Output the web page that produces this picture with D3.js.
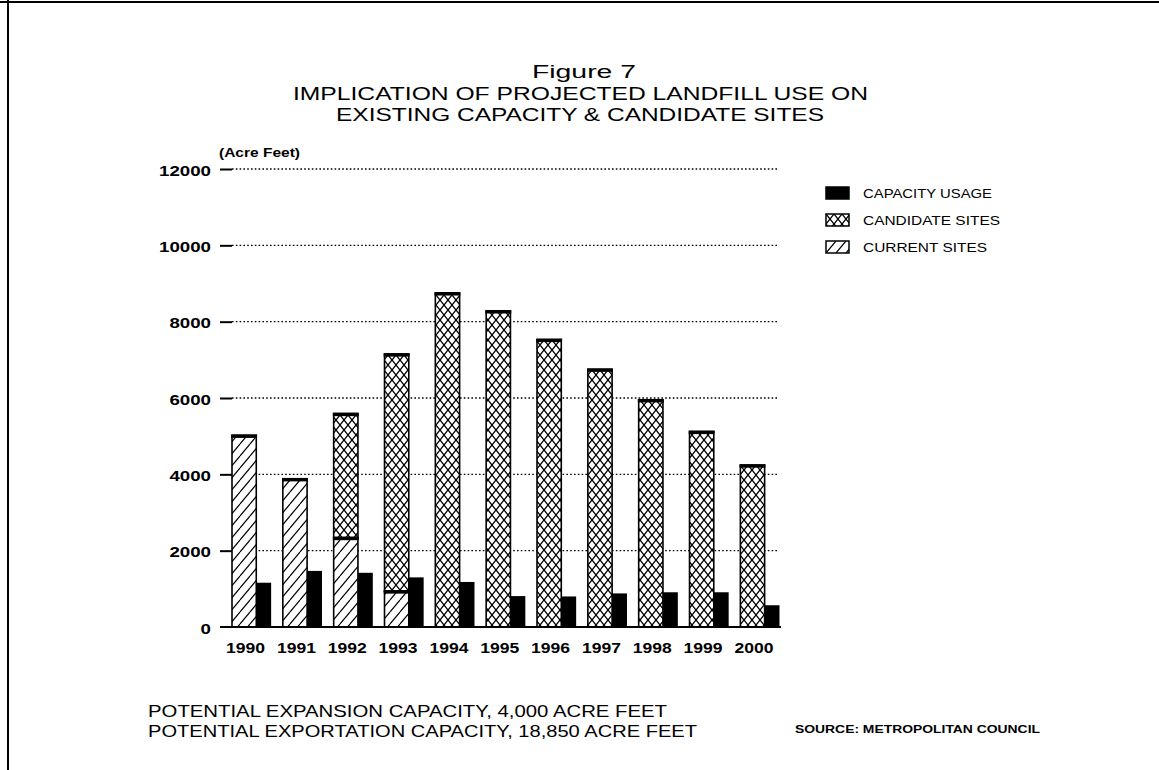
<!DOCTYPE html>
<html>
<head>
<meta charset="utf-8">
<script src="https://cdn.jsdelivr.net/npm/d3@7"></script>
<style>
  body { margin: 0; background: #fff; }
  svg { display: block; font-family: "Liberation Sans", Arial, sans-serif; }
</style>
</head>
<body>
<div id="chart"></div>
<script>
// data (acre feet)
const years = ["1990", "1991", "1992", "1993", "1994", "1995", "1996", "1997", "1998", "1999", "2000"];
const currentSites = [5020, 3880, 2340, 940, 0, 0, 0, 0, 0, 0, 0];
const candidateSites = [0, 0, 3250, 6210, 8750, 8280, 7530, 6750, 5950, 5120, 4240];
const capacityUsage = [1160, 1470, 1420, 1300, 1180, 810, 800, 880, 910, 910, 570];
const yTicks = [0, 2000, 4000, 6000, 8000, 10000, 12000];
const legendItems = ["CAPACITY USAGE", "CANDIDATE SITES", "CURRENT SITES"];

const width = 1159, height = 770;

const svg = d3.select("#chart").append("svg")
    .attr("width", width)
    .attr("height", height);

// fill patterns
const defs = svg.append("defs");
defs.append("pattern")
    .attr("id", "cross")
    .attr("patternUnits", "userSpaceOnUse")
    .attr("width", 8).attr("height", 10)
    .append("path")
    .attr("d", "M0,0L8,10M8,0L0,10")
    .attr("stroke", "#000")
    .attr("stroke-width", 1.3)
    .attr("fill", "none");
defs.append("pattern")
    .attr("id", "hatch")
    .attr("patternUnits", "userSpaceOnUse")
    .attr("width", 10).attr("height", 12)
    .append("path")
    .attr("d", "M0,12L10,0M-5,6L0,0M10,12L15,6")
    .attr("stroke", "#000")
    .attr("stroke-width", 1.2)
    .attr("fill", "none");

// page frame (scanned page edges)
svg.append("line").attr("x1", 0).attr("x2", width).attr("y1", 2).attr("y2", 2)
    .attr("stroke", "#000").attr("stroke-width", 2);
svg.append("line").attr("x1", 8).attr("x2", 8).attr("y1", 0).attr("y2", height)
    .attr("stroke", "#000").attr("stroke-width", 2);

// helper: stretch text to the width it has in the figure
const fit = (sel, w) => sel.attr("textLength", w).attr("lengthAdjust", "spacingAndGlyphs");

// titles
fit(svg.append("text").attr("x", 532).attr("y", 78).style("font-size", "18px").text("Figure 7"), 104);
fit(svg.append("text").attr("x", 293).attr("y", 100).style("font-size", "18px")
    .text("IMPLICATION OF PROJECTED LANDFILL USE ON"), 575);
fit(svg.append("text").attr("x", 336).attr("y", 121).style("font-size", "18px")
    .text("EXISTING CAPACITY & CANDIDATE SITES"), 488);

const x = d3.scaleBand()
    .domain(years)
    .range([232, 779.5])
    .paddingInner(0.23)
    .paddingOuter(0);

const y = d3.scaleLinear()
    .domain([0, 12000])
    .range([627, 169]);

// dotted grid
svg.append("g")
    .selectAll("line")
    .data(yTicks.filter(d => d > 0))
    .enter()
    .append("line")
    .attr("x1", 232).attr("x2", 779)
    .attr("y1", d => y(d)).attr("y2", d => y(d))
    .attr("stroke", "#000")
    .attr("stroke-width", 1.4)
    .attr("stroke-dasharray", "1.6,2.2");

// y axis: solid tick dashes, no spine
const yAxis = svg.append("g")
    .attr("transform", "translate(232,0)")
    .call(d3.axisLeft(y).tickValues(yTicks).tickSize(12).tickPadding(9).tickFormat(d3.format("d")));
yAxis.select(".domain").remove();
yAxis.selectAll(".tick line").attr("stroke", "#000").attr("stroke-width", 2);
yAxis.selectAll(".tick text")
    .attr("fill", "#000")
    .attr("dy", "0.45em")
    .style("font-size", "14px")
    .style("font-family", "Liberation Sans, Arial, sans-serif")
    .style("font-weight", "bold")
    .each(function (d) {
        d3.select(this).attr("textLength", String(d).length * 10.4).attr("lengthAdjust", "spacingAndGlyphs");
    });
yAxis.selectAll(".tick").filter(d => d === 0).select("line").remove();

// axis label
fit(svg.append("text").attr("x", 219).attr("y", 157).style("font-size", "13px").style("font-weight", "bold")
    .text("(Acre Feet)"), 81);

// bars
const hw = x.bandwidth() * 0.62;

const segments = [];
years.forEach((yr, i) => {
    if (currentSites[i] > 0) segments.push({ yr, y0: 0, y1: currentSites[i], fill: "url(#hatch)" });
    if (candidateSites[i] > 0) segments.push({ yr, y0: currentSites[i], y1: currentSites[i] + candidateSites[i], fill: "url(#cross)" });
});

const segG = svg.append("g");
segG.selectAll("rect.bg")
    .data(segments)
    .enter()
    .append("rect")
    .attr("x", d => x(d.yr))
    .attr("y", d => y(d.y1))
    .attr("width", hw)
    .attr("height", d => y(d.y0) - y(d.y1))
    .attr("fill", "#fff");
segG.selectAll("rect.seg")
    .data(segments)
    .enter()
    .append("rect")
    .attr("x", d => x(d.yr))
    .attr("y", d => y(d.y1))
    .attr("width", hw)
    .attr("height", d => y(d.y0) - y(d.y1))
    .attr("fill", d => d.fill)
    .attr("stroke", "#000")
    .attr("stroke-width", 1.6);
// heavy cap on each segment top
segG.selectAll("rect.cap")
    .data(segments)
    .enter()
    .append("rect")
    .attr("x", d => x(d.yr) - 0.8)
    .attr("y", d => y(d.y1) - 1)
    .attr("width", hw + 1.6)
    .attr("height", 3.5)
    .attr("fill", "#000");

svg.append("g")
    .selectAll("rect")
    .data(years)
    .enter()
    .append("rect")
    .attr("x", d => x(d) + hw)
    .attr("y", (d, i) => y(capacityUsage[i]))
    .attr("width", x.bandwidth() - hw)
    .attr("height", (d, i) => y(0) - y(capacityUsage[i]))
    .attr("fill", "#000");

// baseline
svg.append("line")
    .attr("x1", 220).attr("x2", 781)
    .attr("y1", y(0)).attr("y2", y(0))
    .attr("stroke", "#000").attr("stroke-width", 2);

// x axis labels (the figure centres them a little left of the group)
const xAxis = svg.append("g")
    .attr("transform", `translate(-6,${y(0)})`)
    .call(d3.axisBottom(x).tickSize(0).tickPadding(12));
xAxis.select(".domain").remove();
xAxis.selectAll(".tick text")
    .attr("fill", "#000")
    .attr("dy", "0.9em")
    .style("font-size", "15px")
    .style("font-family", "Liberation Sans, Arial, sans-serif")
    .style("font-weight", "bold")
    .attr("textLength", 39)
    .attr("lengthAdjust", "spacingAndGlyphs");

// legend
const legend = svg.append("g")
    .selectAll("g")
    .data(legendItems)
    .enter()
    .append("g")
    .attr("transform", (d, i) => `translate(826, ${187 + i * 27})`);
legend.append("rect")
    .attr("width", 23).attr("height", 12)
    .attr("fill", (d, i) => ["#000", "url(#cross)", "url(#hatch)"][i])
    .attr("stroke", "#000")
    .attr("stroke-width", 1.5);
legend.append("text")
    .attr("x", 37).attr("y", 11)
    .style("font-size", "13px")
    .text(d => d)
    .attr("textLength", (d, i) => [129, 137, 124][i])
    .attr("lengthAdjust", "spacingAndGlyphs");

// notes
fit(svg.append("text").attr("x", 148).attr("y", 717).style("font-size", "17px")
    .text("POTENTIAL EXPANSION CAPACITY, 4,000 ACRE FEET"), 519);
fit(svg.append("text").attr("x", 148).attr("y", 737).style("font-size", "17px")
    .text("POTENTIAL EXPORTATION CAPACITY, 18,850 ACRE FEET"), 549);
fit(svg.append("text").attr("x", 795).attr("y", 733).style("font-size", "10px").style("font-weight", "bold")
    .text("SOURCE: METROPOLITAN COUNCIL"), 245);
</script>
</body>
</html>
